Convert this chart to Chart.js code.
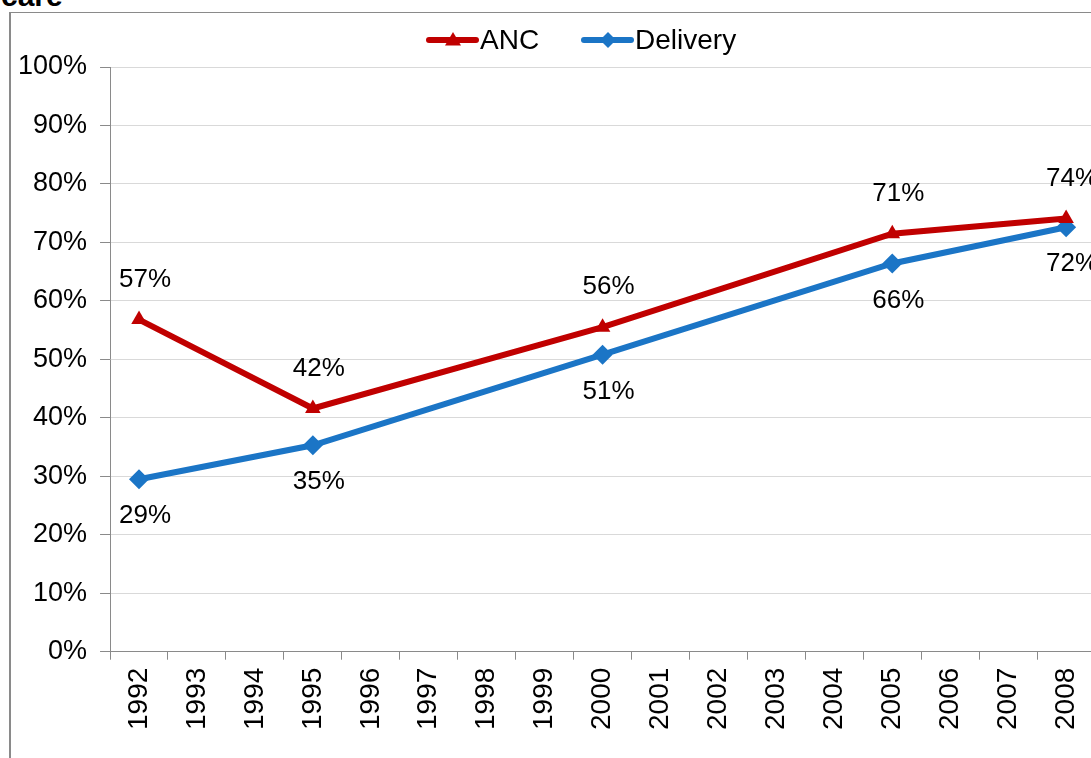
<!DOCTYPE html>
<html>
<head>
<meta charset="utf-8">
<script src="https://cdn.jsdelivr.net/npm/chart.js@4"></script>
<style>
    html, body { margin: 0; padding: 0; background: #fff; overflow: hidden; }
    body { width: 1091px; height: 758px; position: relative; font-family: "Liberation Sans", Arial, sans-serif; }
    #title { position: absolute; left: 1px; top: -21px; font-size: 30px; font-weight: bold; color: #000; }
    #frame { position: absolute; left: 9px; top: 12px; width: 2000px; height: 2000px; border-left: 2px solid #8a8a8a; border-top: 1px solid #8a8a8a; }
    #wrap { position: absolute; left: 0; top: 0; width: 1108px; height: 758px; }
</style>
</head>
<body>
<div id="title">care</div>
<div id="frame"></div>
<div id="wrap"><canvas id="chart"></canvas></div>
<script>
const years = ['1992', '1993', '1994', '1995', '1996', '1997', '1998', '1999', '2000',
    '2001', '2002', '2003', '2004', '2005', '2006', '2007', '2008'];
const ancValues = [56.8, null, null, 41.6, null, null, null, null, 55.5,
    null, null, null, null, 71.5, null, null, 74.1];
const deliveryValues = [29.5, null, null, 35.3, null, null, null, null, 50.8,
    null, null, null, null, 66.4, null, null, 72.6];
const ancLabels = ['57%', null, null, '42%', null, null, null, null, '56%',
    null, null, null, null, '71%', null, null, '74%'];
const deliveryLabels = ['29%', null, null, '35%', null, null, null, null, '51%',
    null, null, null, null, '66%', null, null, '72%'];
const yTicks = [0, 10, 20, 30, 40, 50, 60, 70, 80, 90, 100];

const red = '#C00000';
const blue = '#1B75C6';
const fontName = '"Liberation Sans", Arial, sans-serif';

function drawMarker(ctx, style, x, y, r) {
    ctx.beginPath();
    if (style === 'triangle') {
        ctx.moveTo(x, y - r);
        ctx.lineTo(x + r, y + r * 0.7);
        ctx.lineTo(x - r, y + r * 0.7);
    } else {
        ctx.moveTo(x, y - r);
        ctx.lineTo(x + r, y);
        ctx.lineTo(x, y + r);
        ctx.lineTo(x - r, y);
    }
    ctx.closePath();
    ctx.fill();
}

// legend drawn by hand: line with marker in the middle, then the name
const lineLegend = {
    id: 'lineLegend',
    afterDraw(chart) {
        const ctx = chart.ctx;
        const items = [
            { ds: chart.data.datasets[0], style: 'triangle', x: 426 },
            { ds: chart.data.datasets[1], style: 'diamond', x: 581 }
        ];
        const y = 40;
        ctx.save();
        ctx.font = '28px ' + fontName;
        ctx.textBaseline = 'middle';
        ctx.textAlign = 'left';
        items.forEach(it => {
            const c = it.ds.borderColor;
            ctx.strokeStyle = c;
            ctx.fillStyle = c;
            ctx.lineWidth = 6;
            ctx.lineCap = 'round';
            ctx.beginPath();
            ctx.moveTo(it.x + 3, y);
            ctx.lineTo(it.x + 50, y);
            ctx.stroke();
            drawMarker(ctx, it.style, it.x + 27, y, 8);
            ctx.fillStyle = '#000';
            ctx.fillText(it.ds.label, it.x + 54, y + 1);
        });
        ctx.restore();
    }
};

const pointLabels = {
    id: 'pointLabels',
    afterDatasetsDraw(chart) {
        const ctx = chart.ctx;
        ctx.save();
        ctx.font = '26px ' + fontName;
        ctx.fillStyle = '#000';
        ctx.textAlign = 'center';
        ctx.textBaseline = 'middle';
        chart.data.datasets.forEach((ds, i) => {
            const meta = chart.getDatasetMeta(i);
            meta.data.forEach((pt, j) => {
                const text = ds.pointText[j];
                if (!text) return;
                const dy = ds.labelAbove ? -40 : 37;
                ctx.fillText(text, pt.x + 6, pt.y + dy);
            });
        });
        ctx.restore();
    }
};

new Chart(document.getElementById('chart'), {
    type: 'line',
    data: {
        labels: years,
        datasets: [{
            label: 'ANC',
            data: ancValues,
            pointText: ancLabels,
            labelAbove: true,
            borderColor: red,
            backgroundColor: red,
            borderWidth: 6,
            pointStyle: 'triangle',
            pointRadius: 9,
            pointBorderWidth: 0,
            spanGaps: true,
            tension: 0
        }, {
            label: 'Delivery',
            data: deliveryValues,
            pointText: deliveryLabels,
            labelAbove: false,
            borderColor: blue,
            backgroundColor: blue,
            borderWidth: 6,
            pointStyle: 'rectRot',
            pointRadius: 10,
            pointBorderWidth: 0,
            spanGaps: true,
            tension: 0
        }]
    },
    options: {
        responsive: true,
        maintainAspectRatio: false,
        animation: false,
        layout: { padding: { left: 5, right: 0, top: 67, bottom: 20 } },
        plugins: {
            legend: { display: false },
            tooltip: { enabled: false }
        },
        scales: {
            x: {
                offset: true,
                grid: { offset: true, drawOnChartArea: false, color: '#8a8a8a', tickLength: 8 },
                border: { color: '#8a8a8a' },
                ticks: {
                    color: '#000',
                    font: { family: fontName, size: 28 },
                    minRotation: 90,
                    maxRotation: 90,
                    padding: 8,
                    autoSkip: false
                }
            },
            y: {
                min: 0,
                max: 100,
                afterBuildTicks(scale) {
                    scale.ticks = yTicks.map(v => ({ value: v }));
                },
                grid: { color: '#d9d9d9', tickColor: '#8a8a8a', tickLength: 10 },
                border: { color: '#8a8a8a' },
                ticks: {
                    color: '#000',
                    font: { family: fontName, size: 27 },
                    padding: 13,
                    callback: v => v + '%'
                }
            }
        }
    },
    plugins: [pointLabels, lineLegend]
});
</script>
</body>
</html>
